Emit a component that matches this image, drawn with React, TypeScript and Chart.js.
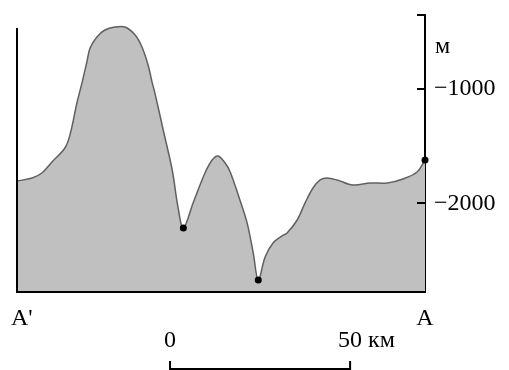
import React, { useEffect, useRef } from "react";
import { Chart, registerables } from "chart.js";

Chart.register(...registerables);

// Distance along the profile from A' (km)
const distanceKm = [
  0, 4.2, 6.9, 9.7, 13.3, 14.7, 16.7, 18.1, 19.4, 20.3, 22.2, 24.4, 27.2, 30.0,
  32.8, 34.7, 36.4, 37.5, 38.3, 40.6, 43.1, 44.7, 46.2, 48.9, 52.2, 54.2,
  55.8, 57.8, 59.2, 61.9, 63.9, 65.6, 67.0, 68.9, 71.1, 73.6, 75.0, 77.8, 80.0,
  82.2, 84.2, 86.1, 88.9, 93.3, 98.1, 102.8, 107.2, 111.1, 113.3,
];
// Depth (m)
const depthM = [
  -1805, -1779, -1735, -1639, -1517, -1404, -1116, -942, -767, -645, -549, -488,
  -462, -462, -532, -636, -793, -942, -1038, -1360, -1709, -2032, -2214,
  -1996, -1735, -1622, -1587, -1648, -1726, -1970, -2170, -2432, -2668, -2467,
  -2345, -2284, -2258, -2145, -1996, -1866, -1796, -1779, -1796, -1840, -1822,
  -1822, -1787, -1726, -1622,
];
const markedIndices = [22, 32, 48];

const yTicks = [-2000, -1000];
const yMin = -2773;
const yMax = -357;
const xMin = 0;
const xMax = 113.3;
const leftFrameTopM = -470;
const unitLabelM = -690;
const scaleBarStartKm = 42.5;
const scaleBarLengthKm = 50;
const labelStart = "A'";
const labelEnd = "A";
const unitLabel = "м";
const scaleLabel0 = "0";
const scaleLabel50 = "50";
const scaleUnit = " км";

const FONT = '"Liberation Serif", "Times New Roman", serif';

export default function App() {
  const ref = useRef<HTMLCanvasElement | null>(null);

  useEffect(() => {
    if (!ref.current) return;
    const overlay = {
      id: "overlay",
      afterDraw(chart: any) {
        const { ctx, chartArea, scales } = chart;
        const xs = scales.x;
        const ys = scales.y;
        ctx.save();
        ctx.strokeStyle = "#000";
        ctx.lineWidth = 2;
        ctx.lineCap = "butt";
        // left frame line
        ctx.beginPath();
        ctx.moveTo(chartArea.left, ys.getPixelForValue(leftFrameTopM));
        ctx.lineTo(chartArea.left, chartArea.bottom + 1);
        ctx.stroke();
        // bottom frame line
        ctx.beginPath();
        ctx.moveTo(chartArea.left - 1, chartArea.bottom);
        ctx.lineTo(chartArea.right + 1, chartArea.bottom);
        ctx.stroke();
        // inward ticks on the right axis
        [...yTicks, yMax].forEach((v) => {
          const y = Math.round(ys.getPixelForValue(v));
          ctx.beginPath();
          ctx.moveTo(chartArea.right - 8, y);
          ctx.lineTo(chartArea.right, y);
          ctx.stroke();
        });
        // text
        ctx.fillStyle = "#000";
        ctx.font = `24px ${FONT}`;
        ctx.textBaseline = "alphabetic";
        ctx.textAlign = "left";
        ctx.fillText(unitLabel, chartArea.right + 10, ys.getPixelForValue(unitLabelM));
        ctx.fillText(labelStart, chartArea.left - 6, chartArea.bottom + 33);
        ctx.textAlign = "center";
        ctx.fillText(labelEnd, chartArea.right, chartArea.bottom + 33);
        // scale bar
        const x0 = xs.getPixelForValue(scaleBarStartKm);
        const x1 = xs.getPixelForValue(scaleBarStartKm + scaleBarLengthKm);
        const textY = chartArea.bottom + 55;
        ctx.fillText(scaleLabel0, x0, textY);
        ctx.fillText(scaleLabel50, x1, textY);
        ctx.textAlign = "left";
        ctx.fillText(scaleUnit, x1 + ctx.measureText(scaleLabel50).width / 2, textY);
        const barY = chartArea.bottom + 77;
        ctx.beginPath();
        ctx.moveTo(x0, barY - 8);
        ctx.lineTo(x0, barY);
        ctx.lineTo(x1, barY);
        ctx.lineTo(x1, barY - 8);
        ctx.stroke();
        ctx.restore();
      },
    };

    const chart = new Chart(ref.current, {
      type: "line",
      data: {
        datasets: [
          {
            data: distanceKm.map((d, i) => ({ x: d, y: depthM[i] })),
            fill: "start",
            backgroundColor: "#c0c0c0",
            borderColor: "#606060",
            borderWidth: 1.5,
            tension: 0.35,
            clip: false as any,
            pointRadius: (c: any) => (markedIndices.includes(c.dataIndex) ? 3.5 : 0),
            pointBackgroundColor: "#000",
            pointBorderColor: "#000",
            pointBorderWidth: 0,
          },
        ],
      },
      options: {
        animation: false,
        responsive: false,
        devicePixelRatio: 1,
        layout: { padding: { left: 17, top: 15, right: 0, bottom: 78 } },
        plugins: { legend: { display: false }, tooltip: { enabled: false } },
        scales: {
          x: { type: "linear", min: xMin, max: xMax, display: false },
          y: {
            type: "linear",
            position: "right",
            min: yMin,
            max: yMax,
            grid: { display: false },
            border: { display: true, color: "#000", width: 2 },
            afterBuildTicks: (s: any) => {
              s.ticks = yTicks.map((v) => ({ value: v }));
            },
            afterFit: (s: any) => {
              s.width = 84;
              s.paddingTop = 0;
              s.paddingBottom = 0;
            },
            ticks: {
              color: "#000",
              padding: 1,
              font: { family: FONT, size: 24 },
              callback: (v: any) => "−" + Math.abs(Number(v)),
            },
          },
        },
      },
      plugins: [overlay],
    });
    return () => chart.destroy();
  }, []);

  return (
    <div style={{ position: "fixed", left: 0, top: 0, width: 509, height: 370, background: "#fff" }}>
      <canvas ref={ref} width={509} height={370} style={{ width: 509, height: 370 }} />
    </div>
  );
}
